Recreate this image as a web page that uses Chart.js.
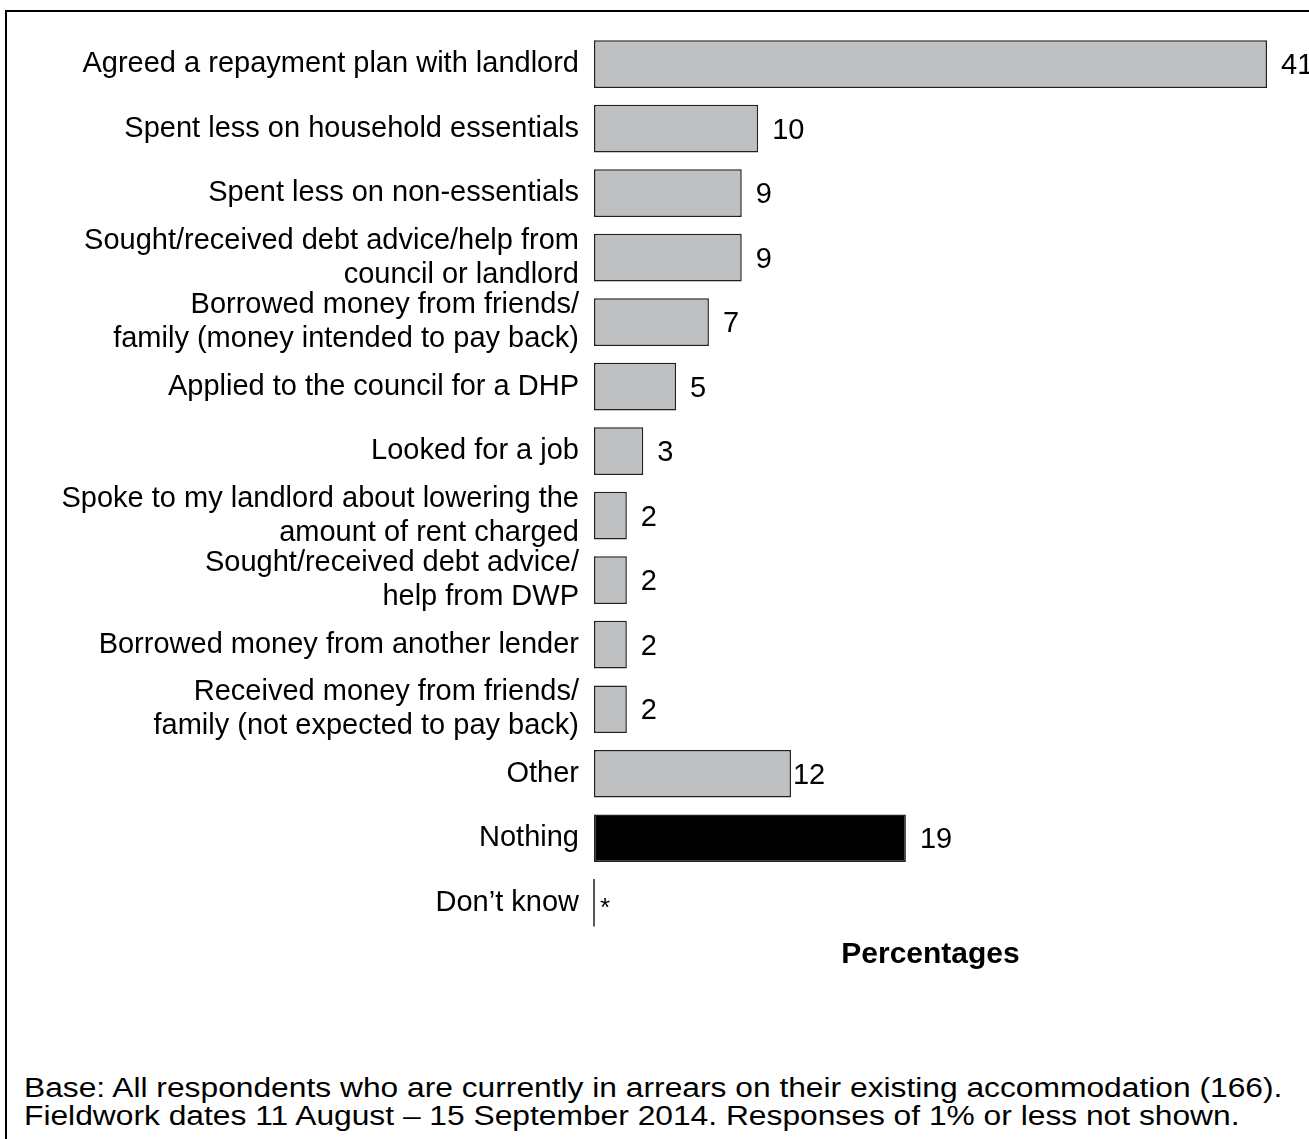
<!DOCTYPE html>
<html>
<head>
<meta charset="utf-8">
<script src="https://cdn.jsdelivr.net/npm/chart.js@4.4.0/dist/chart.umd.min.js"></script>
<style>
  html, body { margin: 0; padding: 0; background: #fff; overflow: hidden; }
  body { width: 1309px; height: 1139px; position: relative; font-family: "Liberation Sans", Arial, sans-serif; }
  #frame { position: absolute; left: 5px; top: 10px; width: 1400px; height: 1300px; border: 2px solid #000; box-sizing: border-box; }
  #wrap { position: absolute; left: 0; top: 0; width: 1309px; height: 1000px; }
  #note { position: absolute; left: 24px; top: 1074px; font-size: 27px; line-height: 28px; color: #000; white-space: nowrap; transform: scaleX(1.176); transform-origin: left top; }
</style>
</head>
<body>
<div id="frame"></div>
<div id="wrap"><canvas id="chartCanvas"></canvas></div>
<div id="note">Base: All respondents who are currently in arrears on their existing accommodation (166).<br>Fieldwork dates 11 August – 15 September 2014. Responses of 1% or less not shown.</div>
<script>
// Categories (multi-line labels as arrays)
const categories = [
  'Agreed a repayment plan with landlord',
  'Spent less on household essentials',
  'Spent less on non-essentials',
  ['Sought/received debt advice/help from', 'council or landlord'],
  ['Borrowed money from friends/', 'family (money intended to pay back)'],
  'Applied to the council for a DHP',
  'Looked for a job',
  ['Spoke to my landlord about lowering the', 'amount of rent charged'],
  ['Sought/received debt advice/', 'help from DWP'],
  'Borrowed money from another lender',
  ['Received money from friends/', 'family (not expected to pay back)'],
  'Other',
  'Nothing',
  'Don\u2019t know'
];

// Percentages (Don't know shown as * i.e. less than 0.5%)
const values = [41, 10, 9, 9, 7, 5, 3, 2, 2, 2, 2, 12, 19, 0];
const valueLabels = ['41', '10', '9', '9', '7', '5', '3', '2', '2', '2', '2', '12', '19', '*'];

const FONT = '"Liberation Sans", Arial, sans-serif';
const GRAY = '#bfc0c2';
const EDGE = '#231f20';

// Value labels next to each bar, plus a base line for zero-width bars
const valueLabelPlugin = {
  id: 'valueLabels',
  afterDatasetsDraw(chart) {
    const ctx = chart.ctx;
    const meta = chart.getDatasetMeta(0);
    ctx.save();
    ctx.font = '29px ' + FONT;
    ctx.fillStyle = '#000';
    ctx.textAlign = 'left';
    ctx.textBaseline = 'middle';
    meta.data.forEach((bar, i) => {
      if (values[i] === 0) {
        ctx.strokeStyle = EDGE;
        ctx.lineWidth = 1.5;
        ctx.beginPath();
        ctx.moveTo(bar.x, bar.y - bar.height / 2);
        ctx.lineTo(bar.x, bar.y + bar.height / 2);
        ctx.stroke();
        ctx.font = '26px ' + FONT;
        ctx.fillText(valueLabels[i], bar.x + 6, bar.y + 6);
        return;
      }
      const gap = categories[i] === 'Other' ? 2 : 14;
      ctx.fillText(valueLabels[i], bar.x + gap, bar.y + 2);
    });
    ctx.restore();
  }
};

function renderChart() {
  const ctx = document.getElementById('chartCanvas').getContext('2d');
  new Chart(ctx, {
    type: 'bar',
    data: {
      labels: categories,
      datasets: [{
        data: values,
        backgroundColor: categories.map(c => c === 'Nothing' ? '#000000' : GRAY),
        borderColor: EDGE,
        borderWidth: 1.5,
        borderSkipped: false,
        barPercentage: 0.74,
        categoryPercentage: 1.0
      }]
    },
    options: {
      indexAxis: 'y',
      responsive: true,
      maintainAspectRatio: false,
      animation: false,
      events: [],
      layout: { padding: { left: 0, right: 42, top: 31, bottom: 27 } },
      scales: {
        x: {
          min: 0,
          max: 41,
          grid: { display: false, drawTicks: false },
          border: { display: false },
          ticks: { display: false },
          title: {
            display: true,
            text: 'Percentages',
            color: '#000',
            font: { family: FONT, size: 30, weight: 'bold' },
            padding: { top: 2, bottom: 0 }
          }
        },
        y: {
          grid: { display: false, drawTicks: false },
          border: { display: false },
          ticks: {
            color: '#000',
            padding: 15,
            font: { family: FONT, size: 29, lineHeight: 1.17 },
            autoSkip: false
          },
          afterFit(scale) { scale.width = 594; }
        }
      },
      plugins: {
        legend: { display: false },
        tooltip: { enabled: false }
      }
    },
    plugins: [valueLabelPlugin]
  });
}

document.addEventListener('DOMContentLoaded', renderChart);
</script>
</body>
</html>
